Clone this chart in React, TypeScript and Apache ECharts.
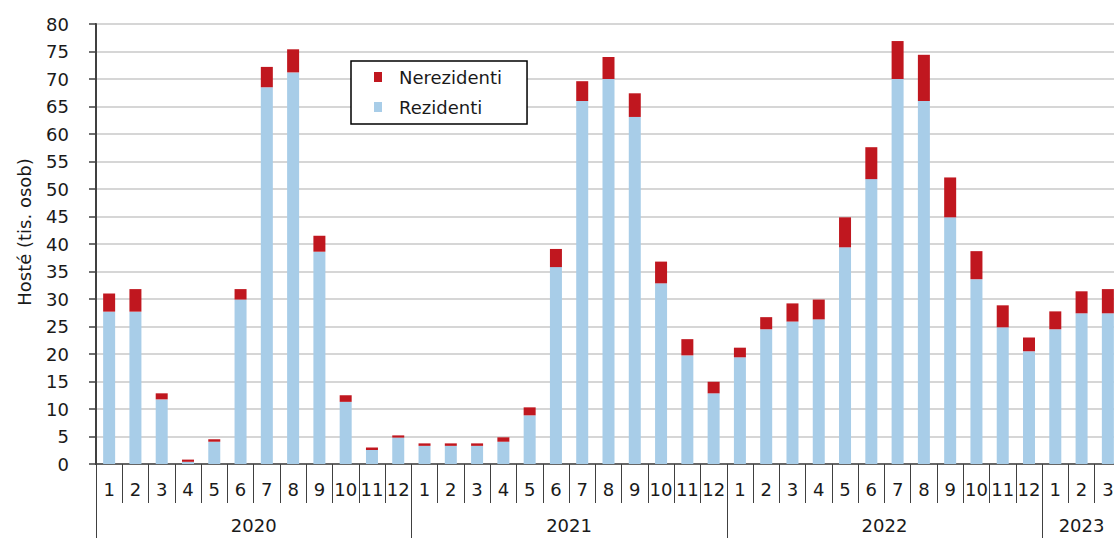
import React, { useEffect, useRef } from "react";
import * as echarts from "echarts";

const years = ["2020", "2021", "2022", "2023"];
const monthsPerYear = [12, 12, 12, 3];

const rezidenti = [
  27.7, 27.7, 11.75, 0.4, 4.05, 29.9, 68.5, 71.2, 38.6, 11.3, 2.55, 4.8,
  3.3, 3.3, 3.3, 4.05, 8.85, 35.8, 66.0, 70.0, 63.1, 32.85, 19.75, 12.85,
  19.4, 24.5, 25.9, 26.3, 39.4, 51.8, 70.0, 66.0, 44.85, 33.6, 24.85, 20.5,
  24.5, 27.4, 27.4,
];

const nerezidenti = [
  3.3, 4.1, 1.1, 0.4, 0.45, 1.9, 3.7, 4.2, 2.9, 1.2, 0.45, 0.4,
  0.45, 0.45, 0.45, 0.8, 1.45, 3.3, 3.6, 4.0, 4.3, 3.95, 2.95, 2.1,
  1.75, 2.2, 3.3, 3.6, 5.45, 5.8, 6.9, 8.4, 7.25, 5.1, 4.0, 2.5,
  3.25, 4.0, 4.4,
];

const yTicks = { min: 0, max: 80, interval: 5 };

const FONT = "DejaVu Sans";
const TEXT = "#1a1a1a";
const AXIS = "#404040";

export default function App() {
  const ref = useRef<HTMLDivElement>(null);

  useEffect(() => {
    if (!ref.current) return;
    const chart = echarts.init(ref.current, null, { renderer: "svg" });

    const months: string[] = [];
    const boundaries: number[] = [];
    const centers: number[] = [];
    let acc = 0;
    monthsPerYear.forEach((n) => {
      boundaries.push(acc);
      centers.push(acc + n / 2);
      for (let m = 1; m <= n; m++) months.push(String(m));
      acc += n;
    });
    boundaries.push(acc);

    const yearAt = (v: number) => {
      for (let i = 0; i < centers.length; i++) {
        if (Math.abs(centers[i] - v) < 0.01) return years[i];
      }
      return "";
    };

    chart.setOption({
      animation: false,
      grid: {
        left: 96,
        right: 0,
        top: 24,
        bottom: 74,
        show: true,
        borderColor: AXIS,
        borderWidth: 2,
        backgroundColor: "transparent",
      },
      legend: {
        data: ["Nerezidenti", "Rezidenti"],
        orient: "vertical",
        left: 351,
        top: 61,
        padding: [7, 25, 8, 23],
        itemGap: 12,
        itemWidth: 8,
        itemHeight: 10,
        icon: "rect",
        borderColor: "#000",
        borderWidth: 1.5,
        backgroundColor: "#fff",
        textStyle: {
          fontFamily: FONT,
          fontSize: 18,
          color: TEXT,
          padding: [0, 0, 0, 12],
        },
      },
      xAxis: [
        {
          type: "category",
          data: months,
          position: "bottom",
          axisLine: { show: true, lineStyle: { color: AXIS, width: 1.5 } },
          axisTick: {
            show: true,
            interval: 0,
            length: 39,
            lineStyle: { color: AXIS, width: 1 },
          },
          axisLabel: {
            interval: 0,
            margin: 16,
            fontFamily: FONT,
            fontSize: 18,
            color: TEXT,
          },
          splitLine: { show: false },
        },
        {
          type: "value",
          min: 0,
          max: acc,
          position: "bottom",
          axisLine: { show: false },
          splitLine: { show: false },
          axisTick: {
            show: true,
            customValues: boundaries,
            length: 76,
            lineStyle: { color: AXIS, width: 1 },
          },
          axisLabel: {
            show: true,
            customValues: centers,
            showMinLabel: true,
            showMaxLabel: true,
            hideOverlap: false,
            formatter: (v: number) => yearAt(Number(v)),
            margin: 52,
            fontFamily: FONT,
            fontSize: 18,
            color: TEXT,
          },
        },
      ],
      yAxis: {
        type: "value",
        min: yTicks.min,
        max: yTicks.max,
        interval: yTicks.interval,
        name: "Hosté (tis. osob)",
        nameLocation: "middle",
        nameGap: 63,
        nameTextStyle: {
          fontFamily: FONT,
          fontSize: 18,
          color: TEXT,
          padding: [0, 0, 0, 24],
        },
        axisLine: { show: true, lineStyle: { color: AXIS, width: 2 } },
        axisTick: { show: true, length: 7, lineStyle: { color: AXIS, width: 1.5 } },
        axisLabel: {
          margin: 27,
          fontFamily: FONT,
          fontSize: 18,
          color: TEXT,
        },
        splitLine: { show: true, lineStyle: { color: "#d6d6d6", width: 2 } },
      },
      series: [
        {
          name: "Rezidenti",
          type: "bar",
          stack: "total",
          xAxisIndex: 0,
          barWidth: 12,
          itemStyle: { color: "#a8cde8" },
          data: rezidenti,
        },
        {
          name: "Nerezidenti",
          type: "bar",
          stack: "total",
          xAxisIndex: 0,
          barWidth: 12,
          itemStyle: { color: "#c0171f" },
          data: nerezidenti,
        },
      ],
    });

    return () => chart.dispose();
  }, []);

  return (
    <div style={{ position: "fixed", left: 0, top: 0, width: 1114, height: 538, overflow: "hidden", background: "#fff" }}>
      <div ref={ref} style={{ width: 1121, height: 538 }} />
    </div>
  );
}
